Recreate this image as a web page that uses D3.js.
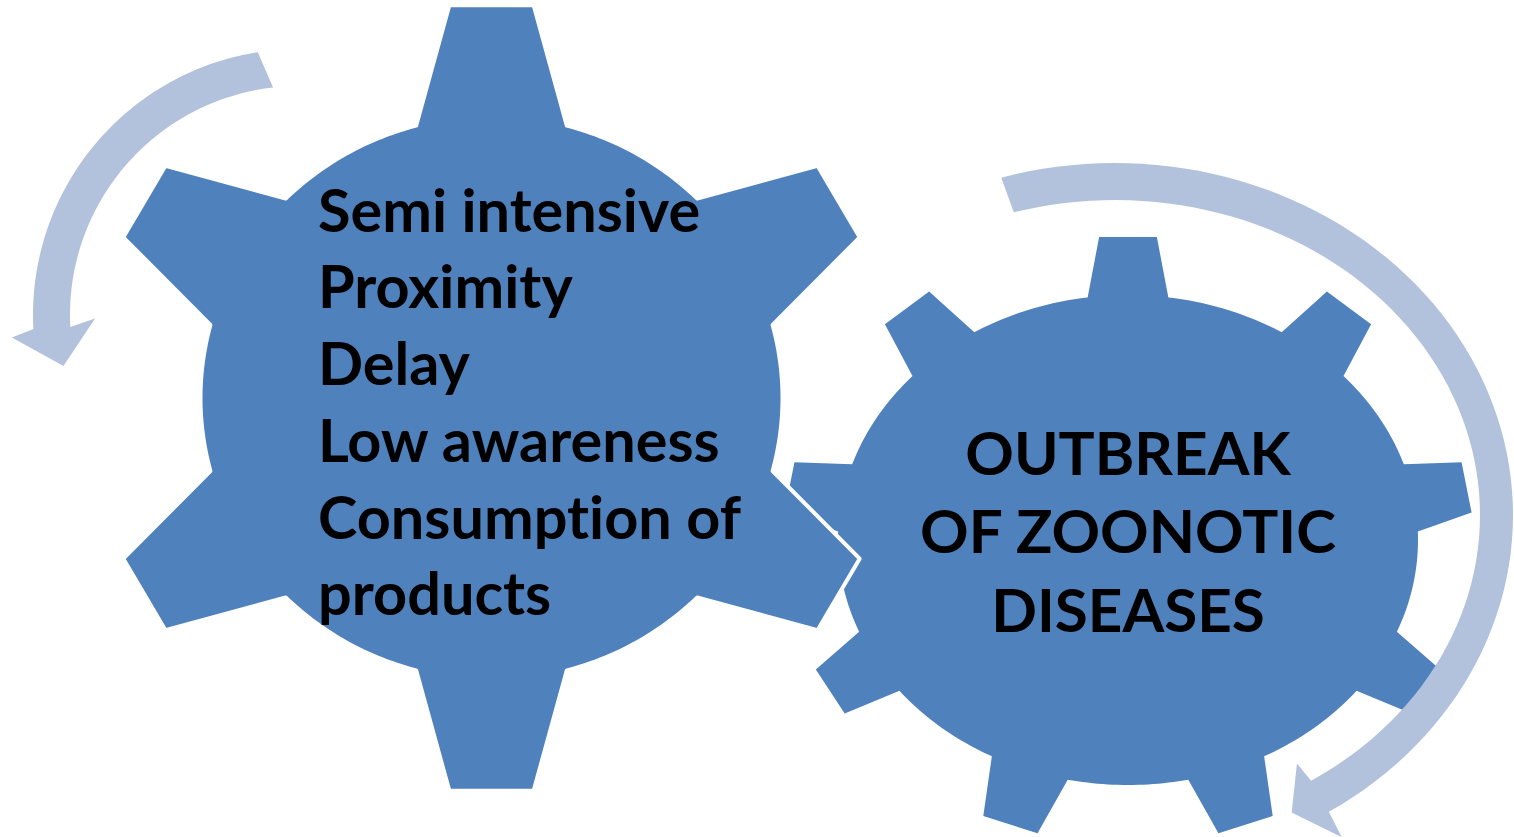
<!DOCTYPE html>
<html>
<head>
<meta charset="utf-8">
<script src="https://cdn.jsdelivr.net/npm/d3@7"></script>
<style>
  body { margin: 0; background: #fff; }
  svg { display: block; }
  text { font-variant-ligatures: none; font-feature-settings: "liga" 0, "clig" 0; }
</style>
</head>
<body>
<div id="chart"></div>
<script>
// text of the two gears
var causes = ["Semi intensive", "Proximity", "Delay", "Low awareness", "Consumption of", "products"];
var outcome = ["OUTBREAK", "OF ZOONOTIC", "DISEASES"];

var width = 1514,
    height = 837,
    gearColor = "#4F81BD",
    arrowColor = "#B2C2DC",
    fontFamily = "Lato, 'Open Sans', sans-serif",
    rad = Math.PI / 180;

// gear shapes: body ellipse, tooth tip ellipse, angles in degrees (y up)
var bigGear = {cx: 491.5, cy: 398, rx: 291, ry: 282, tipRx: 403, tipRy: 395,
               teeth: 6, start: 30, baseHalf: 15, tipHalf: 6};
var smallGear = {cx: 1128, cy: 540, rx: 290, ry: 245, tipRx: 345, tipRy: 304,
                 teeth: 9, start: 10, baseHalf: 8, tipHalf: 4.8};

// circular arrows, angles in degrees (y down)
var leftArrow = {cx: 299, cy: 315, ro: [266, 266], ri: [229, 229], a0o: 261.1, a0i: 263.5, a1: 177,
                 barbOut: {a: 175.5, r: [288, 288]}, tip: {a: 167.8, r: [241, 241]},
                 barbIn: {a: 179, r: [204, 204]}};
var rightArrow = {cx: 1115, cy: 515, ro: [398, 352], ri: [365, 315], a0o: 253.4, a0i: 253.9, a1: 417.5,
                  barbOut: {a: 418.1, r: [429, 379.5]}, tip: {a: 422.3, r: [380, 336]},
                  barbIn: {a: 417.1, r: [335, 296]}};

var svg = d3.select("#chart").append("svg")
    .attr("width", width)
    .attr("height", height);

var line = d3.line();

function gearPt(g, deg, rx, ry) {
  return [g.cx + rx * Math.cos(deg * rad), g.cy - ry * Math.sin(deg * rad)];
}

function gearPath(g) {
  var pts = [], step = 360 / g.teeth;
  for (var i = 0; i < g.teeth; i++) {
    var a = g.start + i * step;
    pts.push(gearPt(g, a - g.baseHalf, g.rx, g.ry));
    pts.push(gearPt(g, a - g.tipHalf, g.tipRx, g.tipRy));
    pts.push(gearPt(g, a + g.tipHalf, g.tipRx, g.tipRy));
    pts.push(gearPt(g, a + g.baseHalf, g.rx, g.ry));
    var end = a + step - g.baseHalf;
    for (var s = a + g.baseHalf + 1; s < end; s += 1) pts.push(gearPt(g, s, g.rx, g.ry));
  }
  return line(pts) + "Z";
}

function arrowPt(c, deg, r) {
  return [c.cx + r[0] * Math.cos(deg * rad), c.cy + r[1] * Math.sin(deg * rad)];
}

function arrowPath(c) {
  var pts = [], n = 80, i;
  for (i = 0; i <= n; i++) pts.push(arrowPt(c, c.a0o + (c.a1 - c.a0o) * i / n, c.ro));
  pts.push(arrowPt(c, c.barbOut.a, c.barbOut.r));
  pts.push(arrowPt(c, c.tip.a, c.tip.r));
  pts.push(arrowPt(c, c.barbIn.a, c.barbIn.r));
  for (i = n; i >= 0; i--) pts.push(arrowPt(c, c.a0i + (c.a1 - c.a0i) * i / n, c.ri));
  return line(pts) + "Z";
}

svg.append("path")
    .attr("class", "gear small")
    .attr("d", gearPath(smallGear))
    .style("fill", gearColor);

svg.append("path")
    .attr("class", "gear big")
    .attr("d", gearPath(bigGear))
    .style("fill", gearColor)
    .style("stroke", "#fff")
    .style("stroke-width", 4)
    .style("stroke-linejoin", "round");

svg.selectAll("path.arrow")
    .data([leftArrow, rightArrow])
  .enter().append("path")
    .attr("class", "arrow")
    .attr("d", arrowPath)
    .style("fill", arrowColor);

// pick a font size so the widest line fits its measured width
function fitSize(text, target) {
  var t = svg.append("text")
      .style("font-family", fontFamily)
      .style("font-weight", "bold")
      .style("font-size", "100px")
      .text(text);
  var w = t.node().getComputedTextLength();
  t.remove();
  return 100 * target / w;
}

var causeSize = fitSize("Consumption of", 423),
    outcomeSize = fitSize("OF ZOONOTIC", 416);

svg.append("g").attr("class", "causes")
  .selectAll("text")
    .data(causes)
  .enter().append("text")
    .attr("x", 318)
    .attr("y", function(d, i) { return 231.7 + i * 76.7; })
    .style("font-family", fontFamily)
    .style("font-weight", "bold")
    .style("font-size", causeSize + "px")
    .style("fill", "#000")
    .text(function(d) { return d; });

svg.append("g").attr("class", "outcome")
  .selectAll("text")
    .data(outcome)
  .enter().append("text")
    .attr("x", smallGear.cx)
    .attr("y", function(d, i) { return 475 + i * 78.3; })
    .attr("text-anchor", "middle")
    .style("font-family", fontFamily)
    .style("font-weight", "bold")
    .style("font-size", outcomeSize + "px")
    .style("fill", "#000")
    .text(function(d) { return d; });
</script>
</body>
</html>
